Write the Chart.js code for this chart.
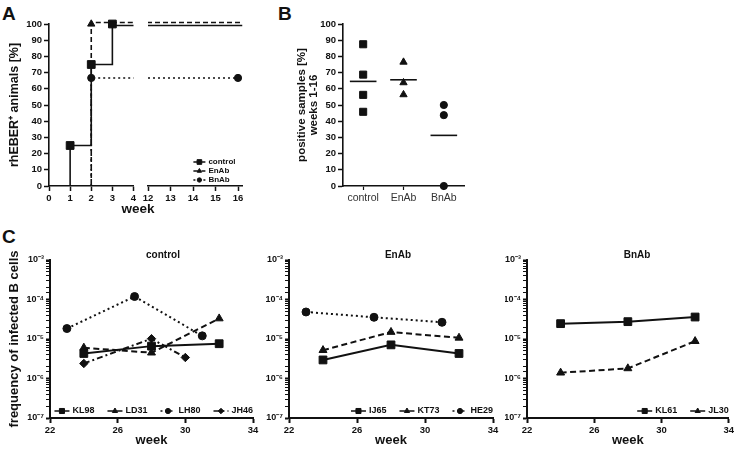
<!DOCTYPE html>
<html lang="en">
<head>
<meta charset="UTF-8" />
<title>rhEBER infection</title>
<script src="https://cdn.jsdelivr.net/npm/chart.js"></script>
<style>
  body { margin: 0; background: #fff; }
  #wrap { position: relative; width: 736px; height: 449px; overflow: hidden;
    font-family: "Liberation Sans", Arial, Helvetica, sans-serif; color: #111; }
  .box { position: absolute; }
  .lbl { position: absolute; font-weight: bold; line-height: 1; white-space: nowrap; }
  .mid { transform: translate(-50%, -50%); }
</style>
</head>
<body>
<div id="wrap">
  <div class="lbl" style="left:2px;top:4px;font-size:19px">A</div>
  <div class="lbl" style="left:278px;top:4px;font-size:19px">B</div>
  <div class="lbl" style="left:2px;top:227px;font-size:19px">C</div>

  <div class="box" style="left:0;top:0;width:140px;height:215px"><canvas id="chartA1"></canvas></div>
  <div class="box" style="left:140px;top:0;width:110px;height:215px"><canvas id="chartA2"></canvas></div>
  <div class="lbl mid" style="left:138px;top:209px;font-size:13.5px">week</div>

  <div class="box" style="left:288px;top:0;width:182px;height:215px"><canvas id="chartB"></canvas></div>

  <div class="box" style="left:0;top:240px;width:265px;height:209px"><canvas id="chartC1"></canvas></div>
  <div class="box" style="left:265px;top:240px;width:240px;height:209px"><canvas id="chartC2"></canvas></div>
  <div class="box" style="left:505px;top:240px;width:231px;height:209px"><canvas id="chartC3"></canvas></div>
  <div class="lbl mid" style="left:163px;top:255px;font-size:10px">control</div>
  <div class="lbl mid" style="left:398px;top:255px;font-size:10px">EnAb</div>
  <div class="lbl mid" style="left:637px;top:255px;font-size:10px">BnAb</div>
</div>

<script>
  // ---- panel A: cumulative rhEBER+ animals (%)
  const weeksLeft = [0, 1, 2, 3, 4];
  const weeksRight = [12, 13, 14, 15, 16];
  const groupsA = ["control", "EnAb", "BnAb"];
  const controlWeeks = [1, 2, 3];
  const controlPct = [25, 75, 100];
  const enabWeeks = [2];
  const enabPct = [100];
  const bnabWeeks = [2, 16];
  const bnabPct = [66.7, 66.7];

  // ---- panel B: positive samples weeks 1-16 (%)
  const groupsB = ["control", "EnAb", "BnAb"];
  const controlPos = [87.5, 68.75, 56.25, 45.8];
  const enabPos = [76.5, 63.8, 56.4];
  const bnabPos = [50, 43.75, 0];

  // ---- panel C: frequency of infected B cells
  const weeksC = [22, 26, 30, 34];
  const kl98Weeks = [24, 28, 32], kl98 = [4.3e-6, 6.6e-6, 7.6e-6];
  const ld31Weeks = [24, 28, 32], ld31 = [6.0e-6, 4.5e-6, 3.3e-5];
  const lh80Weeks = [23, 27, 31], lh80 = [1.84e-5, 1.19e-4, 1.2e-5];
  const jh46Weeks = [24, 28, 30], jh46 = [2.4e-6, 1.02e-5, 3.4e-6];
  const ij65Weeks = [24, 28, 32], ij65 = [2.95e-6, 7.1e-6, 4.3e-6];
  const kt73Weeks = [24, 28, 32], kt73 = [5.2e-6, 1.5e-5, 1.07e-5];
  const he29Weeks = [23, 27, 31], he29 = [4.83e-5, 3.55e-5, 2.65e-5];
  const kl61Weeks = [24, 28, 32], kl61 = [2.45e-5, 2.75e-5, 3.6e-5];
  const jl30Weeks = [24, 28, 32], jl30 = [1.4e-6, 1.8e-6, 8.8e-6];

  const INK = "#111";
  const FONT = '"Liberation Sans", Arial, Helvetica, sans-serif';
  Chart.defaults.font.family = FONT;
  Chart.defaults.color = INK;
  Chart.defaults.animation = false;

  // line styles (solid / dashed / dotted / dash-dot)
  const SOLID = [], DASH = [6, 3.5], DOT = [2, 3], DASHDOT = [6, 3, 2, 3];

  // legend drawn inside the plot area, anchored bottom-right
  const inLegend = {
    id: "inLegend",
    afterDraw(chart, args, opts) {
      if (!opts || !opts.items) return;
      const ctx = chart.ctx, a = chart.chartArea;
      const sw = opts.sampleWidth, gap = 3;
      ctx.save();
      ctx.font = "bold " + opts.fontSize + "px " + FONT;
      ctx.textBaseline = "middle";
      ctx.fillStyle = INK;
      ctx.strokeStyle = INK;
      const widths = opts.items.map((it) => ctx.measureText(it.label).width);
      const drawItem = (it, x, y, w) => {
        ctx.lineWidth = 1.5;
        ctx.setLineDash(it.dash);
        ctx.beginPath();
        ctx.moveTo(x, y);
        ctx.lineTo(x + sw, y);
        ctx.stroke();
        ctx.setLineDash([]);
        ctx.lineWidth = 1;
        Chart.helpers.drawPoint(ctx, { pointStyle: it.mark, radius: it.r, rotation: 0, borderWidth: 1 }, x + sw / 2, y);
        ctx.fillText(it.label, x + sw + gap, y);
      };
      if (opts.column) {
        const maxW = Math.max(...widths);
        const x = a.right - opts.right - maxW - gap - sw;
        const y0 = a.bottom - opts.bottom - (opts.items.length - 1) * opts.rowH;
        opts.items.forEach((it, i) => drawItem(it, x, y0 + i * opts.rowH));
      } else {
        const total = widths.reduce((s, w) => s + w + sw + gap, 0) + opts.spacing * (opts.items.length - 1);
        let x = a.right - opts.right - total;
        const y = a.bottom - opts.bottom;
        opts.items.forEach((it, i) => {
          drawItem(it, x, y);
          x += sw + gap + widths[i] + opts.spacing;
        });
      }
      ctx.restore();
    },
  };

  const baseOpts = {
    responsive: true,
    maintainAspectRatio: false,
    events: [],
  };

  function tickGrid(len, w) {
    return { drawOnChartArea: false, tickLength: len, tickColor: INK, tickWidth: w };
  }

  // ---------------- panel A ----------------
  const axisEndA = 16.2;
  function stepLine(weeks, pct, nudge) {
    // overlapping 100% plateaus are nudged apart so both stay visible
    const pts = [{ x: weeks[0], y: 0 }];
    weeks.forEach((w, i) => pts.push({ x: w, y: pct[i] === 100 ? pct[i] + nudge : pct[i] }));
    const last = pts[pts.length - 1];
    if (last.x < 16) pts.push({ x: axisEndA, y: last.y });
    return pts;
  }
  const stylesA = [
    { dash: SOLID, mark: "rect", r: 5.5, nudge: -0.9 },
    { dash: [5, 3], mark: "triangle", r: 4.2, nudge: 0.9 },
    { dash: DOT, mark: "circle", r: 3.6, nudge: 0 },
  ];
  const dataA = [
    [controlWeeks, controlPct],
    [enabWeeks, enabPct],
    [bnabWeeks, bnabPct],
  ];

  function datasetsA(xmin, xmax) {
    const lines = dataA.map((d, i) => ({
      type: "line",
      label: groupsA[i] + " line",
      data: stepLine(d[0], d[1], stylesA[i].nudge),
      stepped: true,
      borderColor: INK,
      borderWidth: 1.6,
      borderDash: stylesA[i].dash,
      pointRadius: 0,
      clip: { left: 0, right: 0, top: 8, bottom: 8 },
      order: 2,
    }));
    const marks = dataA.map((d, i) => ({
      type: "line",
      label: groupsA[i],
      data: d[0].map((w, j) => ({ x: w, y: d[1][j] })).filter((p) => p.x >= xmin && p.x <= xmax),
      showLine: false,
      pointStyle: stylesA[i].mark,
      pointRadius: stylesA[i].r,
      pointBackgroundColor: INK,
      pointBorderColor: INK,
      pointBorderWidth: 1,
      clip: false,
      order: 1,
    }));
    return lines.concat(marks);
  }

  const yA = {
    min: 0,
    max: 100,
    afterFit: (s) => { s.width = 49; },
    border: { color: INK, width: 1.6 },
    grid: tickGrid(5, 1.5),
    ticks: { stepSize: 10, padding: 2, font: { size: 9.5, weight: "bold" } },
    title: {
      display: true,
      text: "rhEBER\u207A animals [%]",
      font: { size: 12.5, weight: "bold" },
      padding: { top: 7.5, bottom: 0 },
    },
  };

  new Chart(document.getElementById("chartA1"), {
    type: "line",
    data: { datasets: datasetsA(0, 4) },
    plugins: [],
    options: Object.assign({}, baseOpts, {
      layout: { padding: { top: 24, right: 4, left: 0, bottom: 0 } },
      plugins: { legend: { display: false }, tooltip: { enabled: false } },
      scales: {
        x: {
          type: "linear",
          min: 0,
          max: 4,
          afterFit: (s) => { s.height = 29; },
          afterBuildTicks: (s) => { s.ticks = weeksLeft.map((v) => ({ value: v })); },
          border: { color: INK, width: 1.6 },
          grid: tickGrid(5, 1.5),
          ticks: { padding: 2, font: { size: 9.5, weight: "bold" } },
        },
        y: yA,
      },
    }),
  });

  new Chart(document.getElementById("chartA2"), {
    type: "line",
    data: { datasets: datasetsA(12, 16.2) },
    plugins: [inLegend],
    options: Object.assign({}, baseOpts, {
      layout: { padding: { top: 24, right: 7.5, left: 8, bottom: 0 } },
      plugins: {
        legend: { display: false },
        tooltip: { enabled: false },
        inLegend: {
          column: true,
          fontSize: 8,
          sampleWidth: 12,
          rowH: 9,
          right: 7,
          bottom: 6,
          items: groupsA.map((g, i) => ({ label: g, dash: stylesA[i].dash, mark: stylesA[i].mark, r: stylesA[i].r * 0.6 })),
        },
      },
      scales: {
        x: {
          type: "linear",
          min: 12,
          max: axisEndA,
          afterFit: (s) => { s.height = 29; },
          afterBuildTicks: (s) => { s.ticks = weeksRight.map((v) => ({ value: v })); },
          border: { color: INK, width: 1.6 },
          grid: tickGrid(5, 1.5),
          ticks: { padding: 2, font: { size: 9.5, weight: "bold" } },
        },
        y: { min: 0, max: 100, display: false },
      },
    }),
  });

  // ---------------- panel B ----------------
  const valuesB = [controlPos, enabPos, bnabPos];
  const marksB = [
    { mark: "rect", r: 5 },
    { mark: "triangle", r: 4.2 },
    { mark: "circle", r: 3.6 },
  ];
  const mean = (arr) => arr.reduce((s, v) => s + v, 0) / arr.length;
  const dsB = [];
  valuesB.forEach((vals, i) => {
    dsB.push({
      label: groupsB[i],
      data: vals.map((v) => ({ x: i + 1, y: v })),
      pointStyle: marksB[i].mark,
      pointRadius: marksB[i].r,
      pointBackgroundColor: INK,
      pointBorderColor: INK,
      pointBorderWidth: 1,
      clip: false,
      order: 1,
    });
    const m = mean(vals);
    dsB.push({
      label: groupsB[i] + " mean",
      data: [{ x: i + 1 - 0.33, y: m }, { x: i + 1 + 0.33, y: m }],
      showLine: true,
      borderColor: INK,
      borderWidth: 1.6,
      pointRadius: 0,
      clip: false,
      order: 2,
    });
  });

  new Chart(document.getElementById("chartB"), {
    type: "scatter",
    data: { datasets: dsB },
    options: Object.assign({}, baseOpts, {
      layout: { padding: { top: 24, right: 5, left: 0, bottom: 0 } },
      plugins: { legend: { display: false }, tooltip: { enabled: false } },
      scales: {
        x: {
          type: "linear",
          min: 0.5,
          max: 3.5,
          afterFit: (s) => { s.height = 29; },
          afterBuildTicks: (s) => { s.ticks = groupsB.map((g, i) => ({ value: i + 1 })); },
          border: { color: INK, width: 1.6 },
          grid: tickGrid(4, 1.2),
          ticks: {
            padding: 2,
            color: "#333",
            font: { size: 10.5 },
            callback: (v, i) => groupsB[i],
          },
        },
        y: {
          min: 0,
          max: 100,
          afterFit: (s) => { s.width = 55; },
          border: { color: INK, width: 1.6 },
          grid: tickGrid(5, 1.5),
          ticks: { stepSize: 10, padding: 2, font: { size: 9.5, weight: "bold" } },
          title: {
            display: true,
            text: ["positive samples [%]", "weeks 1-16"],
            font: { size: 11.5, weight: "bold", lineHeight: 1.05 },
            padding: { top: 8, bottom: 0 },
          },
        },
      },
    }),
  });

  // ---------------- panel C ----------------
  const SUP = { "-": "\u207B", "0": "\u2070", "1": "\u00B9", "2": "\u00B2", "3": "\u00B3", "4": "\u2074",
    "5": "\u2075", "6": "\u2076", "7": "\u2077", "8": "\u2078", "9": "\u2079" };
  const isPow10 = (v) => Math.abs(Math.log10(v) - Math.round(Math.log10(v))) < 1e-6;
  const powLabel = (v) => "10" + String(Math.round(Math.log10(v))).split("").map((c) => SUP[c]).join("");

  const STY = {
    square: { dash: SOLID, mark: "rect", r: 5.5 },
    triangle: { dash: DASH, mark: "triangle", r: 4.6 },
    circle: { dash: DOT, mark: "circle", r: 4 },
    diamond: { dash: DASHDOT, mark: "rectRot", r: 4.2 },
  };
  const seriesC1 = [
    { label: "KL98", weeks: kl98Weeks, vals: kl98, s: STY.square },
    { label: "LD31", weeks: ld31Weeks, vals: ld31, s: STY.triangle },
    { label: "LH80", weeks: lh80Weeks, vals: lh80, s: STY.circle },
    { label: "JH46", weeks: jh46Weeks, vals: jh46, s: STY.diamond },
  ];
  const seriesC2 = [
    { label: "IJ65", weeks: ij65Weeks, vals: ij65, s: STY.square },
    { label: "KT73", weeks: kt73Weeks, vals: kt73, s: STY.triangle },
    { label: "HE29", weeks: he29Weeks, vals: he29, s: STY.circle },
  ];
  const seriesC3 = [
    { label: "KL61", weeks: kl61Weeks, vals: kl61, s: STY.square },
    { label: "JL30", weeks: jl30Weeks, vals: jl30, s: STY.triangle },
  ];

  function makeC(id, series, yWidth, padRight, showTitle) {
    new Chart(document.getElementById(id), {
      type: "line",
      data: {
        datasets: series.map((ser) => ({
          label: ser.label,
          data: ser.weeks.map((w, i) => ({ x: w, y: ser.vals[i] })),
          borderColor: INK,
          backgroundColor: INK,
          borderWidth: 2,
          borderDash: ser.s.dash,
          pointStyle: ser.s.mark,
          pointRadius: ser.s.r,
          pointBackgroundColor: INK,
          pointBorderColor: INK,
          pointBorderWidth: 1,
          clip: false,
        })),
      },
      plugins: [inLegend],
      options: Object.assign({}, baseOpts, {
        layout: { padding: { top: 20, right: padRight, left: 0, bottom: 0 } },
        plugins: {
          legend: { display: false },
          tooltip: { enabled: false },
          inLegend: {
            column: false,
            fontSize: 9,
            sampleWidth: 15,
            spacing: 13,
            right: 0,
            bottom: 7,
            items: series.map((ser) => ({ label: ser.label, dash: ser.s.dash, mark: ser.s.mark, r: ser.s.r * 0.65 })),
          },
        },
        scales: {
          x: {
            type: "linear",
            min: weeksC[0],
            max: weeksC[weeksC.length - 1],
            afterFit: (s) => { s.height = 31; },
            afterBuildTicks: (s) => { s.ticks = weeksC.map((v) => ({ value: v })); },
            border: { color: INK, width: 2 },
            grid: tickGrid(5, 2),
            ticks: { padding: 2, font: { size: 9.5, weight: "bold" } },
            title: {
              display: true,
              text: "week",
              font: { size: 13, weight: "bold" },
              padding: { top: 0, bottom: 1 },
            },
          },
          y: {
            type: "logarithmic",
            min: 1e-7,
            max: 1e-3,
            afterFit: (s) => { s.width = yWidth; },
            border: { color: INK, width: 2 },
            grid: {
              drawOnChartArea: false,
              tickLength: 4,
              tickColor: INK,
              tickWidth: (c) => (c.tick && isPow10(c.tick.value) ? 2 : 1),
            },
            ticks: {
              autoSkip: false,
              padding: 2,
              font: { size: 9, weight: "bold" },
              callback: (v) => (isPow10(v) ? powLabel(v) : ""),
            },
            title: {
              display: showTitle,
              text: "frequency of infected B cells",
              font: { size: 13, weight: "bold" },
              padding: { top: 7, bottom: 0 },
            },
          },
        },
      }),
    });
  }

  makeC("chartC1", seriesC1, 50, 12, true);
  makeC("chartC2", seriesC2, 24, 12, false);
  makeC("chartC3", seriesC3, 22, 6, false);
</script>
</body>
</html>
